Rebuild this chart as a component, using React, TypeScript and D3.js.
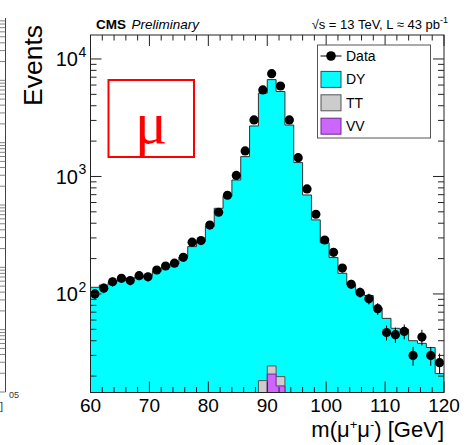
import React from "react";
import * as d3 from "d3";

// Bin low edges of m(mu+mu-) [GeV], 1.5 GeV bins
const binLow = [60, 61.5, 63, 64.5, 66, 67.5, 69, 70.5, 72, 73.5, 75, 76.5, 78, 79.5, 81, 82.5, 84, 85.5, 87, 88.5, 90, 91.5, 93, 94.5, 96, 97.5, 99, 100.5, 102, 103.5, 105, 106.5, 108, 109.5, 111, 112.5, 114, 115.5, 117, 118.5];
const BIN_W = 1.5;

const dataCounts = [100, 112, 127, 136, 130, 143, 140, 160, 173, 183, 205, 276, 285, 386, 496, 692, 1020, 1650, 3030, 5450, 7500, 5890, 3030, 1445, 783, 477, 288, 226, 166, 121, 103, 91, 75, 47, 45, 48, 30, 43, 30, 26];
const dyCounts = [114, 119, 126, 130, 135, 139, 143, 156, 168, 180, 205, 253, 280, 375, 536, 680, 933, 1476, 2690, 5100, 6650, 5270, 2740, 1313, 696, 427, 273, 204, 150, 120, 104, 97, 76, 62, 51, 50, 40, 38, 35, 21];
const ttCounts = [0, 0, 0, 0, 0, 0, 0, 0, 0, 0, 0, 0, 0, 0, 0, 0, 0, 0, 0, 10.3, 3.6, 3.3, 0, 0, 0, 0, 0, 0, 0, 0, 0, 0, 0, 0, 0, 0, 0, 0, 0, 0];
const vvCounts = [0, 0, 0, 0, 0, 0, 0, 0, 0, 0, 0, 0, 0, 0, 0, 0, 0, 0, 0, 8, 20.8, 16.5, 0, 0, 0, 0, 0, 0, 0, 0, 0, 0, 0, 0, 0, 0, 0, 0, 0, 0];

const xMajor = [60, 70, 80, 90, 100, 110, 120];
const xMinor = [62, 64, 66, 68, 72, 74, 76, 78, 82, 84, 86, 88, 92, 94, 96, 98, 102, 104, 106, 108, 112, 114, 116, 118];
const yMajor = [100, 1000, 10000];
const yMajorExp = ["2", "3", "4"];
const yMinor = [20, 30, 40, 50, 60, 70, 80, 90, 200, 300, 400, 500, 600, 700, 800, 900, 2000, 3000, 4000, 5000, 6000, 7000, 8000, 9000];

const legendItems = [
  { label: "Data", kind: "marker", color: "#000" },
  { label: "DY", kind: "box", color: "#00ffff", stroke: "#444" },
  { label: "TT", kind: "box", color: "#cccccc", stroke: "#555" },
  { label: "VV", kind: "box", color: "#cc66ff", stroke: "#6a2a8a" },
];

const FONT = "'Liberation Sans', Arial, Helvetica, sans-serif";

export default function App() {
  const W = 475, H = 445;
  const L = 90.5, R = 444, T = 35, B = 392.5;
  const x = d3.scaleLinear().domain([60, 120]).range([L, R]);
  const y = d3.scaleLog().domain([14.5, 16000]).range([B, T]);
  const yy = (v: number) => (v > 0 ? y(v) : B + 50);

  const vvCum = vvCounts;
  const ttCum = ttCounts.map((v, i) => v + vvCounts[i]);
  const dyCum = dyCounts.map((v, i) => v + ttCum[i]);

  const stepPath = (vals: number[]) => {
    let p = `M${x(binLow[0])},${B + 50}`;
    vals.forEach((v, i) => {
      p += `L${x(binLow[i])},${yy(v)}L${x(binLow[i] + BIN_W)},${yy(v)}`;
    });
    p += `L${x(binLow[binLow.length - 1] + BIN_W)},${B + 50}Z`;
    return p;
  };

  // left-strip (neighbouring plot fragment) ticks
  const stripY = d3.scaleLog().domain([1, 1e6]).range([392, 18]);
  const stripTicks: number[] = [];
  for (let e = 0; e < 6; e++) for (let m = 1; m < 10; m++) stripTicks.push(m * Math.pow(10, e));

  return (
    <svg width={W} height={H} style={{ position: "fixed", left: 0, top: 0, background: "#fff" }} fontFamily={FONT}>
      <defs>
        <clipPath id="plotClip">
          <rect x={L} y={T} width={R - L} height={B - T} />
        </clipPath>
      </defs>
      <rect x={0} y={0} width={W} height={H} fill="#fff" />

      {/* fragment of neighbouring plot at left edge */}
      <line x1={5.5} x2={5.5} y1={18} y2={392} stroke="#444" strokeWidth={1} />
      {stripTicks.map((t, i) => (
        <line key={"st" + i} x1={0} x2={5.5} y1={stripY(t)} y2={stripY(t)} stroke="#666" strokeWidth={0.8} />
      ))}
      <text x={9} y={398} fontSize={9} fill="#333">05</text>
      <text x={0} y={410} fontSize={11} fill="#333">]</text>

      {/* stacked histograms */}
      <g clipPath="url(#plotClip)">
        <path d={stepPath(dyCum)} fill="#00ffff" stroke="#333" strokeWidth={1} />
        <path d={stepPath(ttCum)} fill="#cccccc" stroke="#555" strokeWidth={1} />
        <path d={stepPath(vvCum)} fill="#cc66ff" stroke="#6a2a8a" strokeWidth={1} />
        {/* data */}
        {dataCounts.map((n, i) => {
          const cx = x(binLow[i] + BIN_W / 2);
          const e = Math.sqrt(n);
          return (
            <g key={"d" + i}>
              <line x1={cx} x2={cx} y1={y(n + e)} y2={y(Math.max(n - e, 1))} stroke="#000" strokeWidth={1} />
              <circle cx={cx} cy={y(n)} r={4.6} fill="#000" />
            </g>
          );
        })}
      </g>

      {/* frame */}
      <rect x={L} y={T} width={R - L} height={B - T} fill="none" stroke="#222" strokeWidth={1} />

      {/* x ticks */}
      {xMajor.map((t) => (
        <g key={"xm" + t}>
          <line x1={x(t)} x2={x(t)} y1={B} y2={B - 11} stroke="#222" />
          <line x1={x(t)} x2={x(t)} y1={T} y2={T + 11} stroke="#222" />
          <text x={x(t)} y={412} fontSize={19} textAnchor="middle" fill="#000">{t}</text>
        </g>
      ))}
      {xMinor.map((t) => (
        <g key={"xn" + t}>
          <line x1={x(t)} x2={x(t)} y1={B} y2={B - 5.5} stroke="#222" />
          <line x1={x(t)} x2={x(t)} y1={T} y2={T + 5.5} stroke="#222" />
        </g>
      ))}

      {/* y ticks */}
      {yMajor.map((t, i) => (
        <g key={"ym" + t}>
          <line x1={L} x2={L + 11} y1={y(t)} y2={y(t)} stroke="#222" />
          <line x1={R} x2={R - 11} y1={y(t)} y2={y(t)} stroke="#222" />
          <text x={78} y={y(t) + 7.5} fontSize={20} textAnchor="end" fill="#000">10</text>
          <text x={78.5} y={y(t) - 2} fontSize={14} textAnchor="start" fill="#000">{yMajorExp[i]}</text>
        </g>
      ))}
      {yMinor.map((t) => (
        <g key={"yn" + t}>
          <line x1={L} x2={L + 6} y1={y(t)} y2={y(t)} stroke="#222" />
          <line x1={R} x2={R - 6} y1={y(t)} y2={y(t)} stroke="#222" />
        </g>
      ))}

      {/* axis titles */}
      <text x={444} y={437} fontSize={22} textAnchor="end" fill="#000">
        m(μ<tspan fontSize={13} dy={-8}>+</tspan><tspan dy={8}>μ</tspan><tspan fontSize={13} dy={-8}>-</tspan><tspan dy={8}>) [GeV]</tspan>
      </text>
      <text transform="translate(41.5,106) rotate(-90)" fontSize={26.5} textAnchor="start" fill="#000">Events</text>

      {/* header */}
      <text x={96} y={28.5} fontSize={13.5} fontWeight="bold" fill="#000">CMS</text>
      <text x={131.5} y={28.5} fontSize={13.5} fontStyle="italic" fill="#000">Preliminary</text>
      <text x={448} y={28.5} fontSize={13} textAnchor="end" fill="#000">
        √s = 13 TeV, L ≈ 43 pb<tspan fontSize={9} dy={-6}>-1</tspan>
      </text>

      {/* legend */}
      <rect x={317.5} y={45} width={113} height={93} fill="#fff" stroke="#555" strokeWidth={1} />
      {legendItems.map((it, i) => {
        const cy = 56 + i * 23.4;
        return (
          <g key={it.label}>
            {it.kind === "marker" ? (
              <g>
                <line x1={320.5} x2={341.5} y1={cy} y2={cy} stroke="#000" strokeWidth={1} />
                <circle cx={331} cy={cy} r={4.8} fill="#000" />
              </g>
            ) : (
              <rect x={321} y={cy - 8} width={20} height={16} fill={it.color} stroke={it.stroke} strokeWidth={1} />
            )}
            <text x={346} y={cy + 5} fontSize={14} fill="#000">{it.label}</text>
          </g>
        );
      })}

      {/* mu box */}
      <rect x={108.5} y={80} width={85.5} height={77} fill="none" stroke="#ff0000" strokeWidth={2} />
      <text x={151} y={143} fontSize={60} textAnchor="middle" fill="#ff0000" fontFamily="'Liberation Serif', 'DejaVu Serif', serif">μ</text>
    </svg>
  );
}
